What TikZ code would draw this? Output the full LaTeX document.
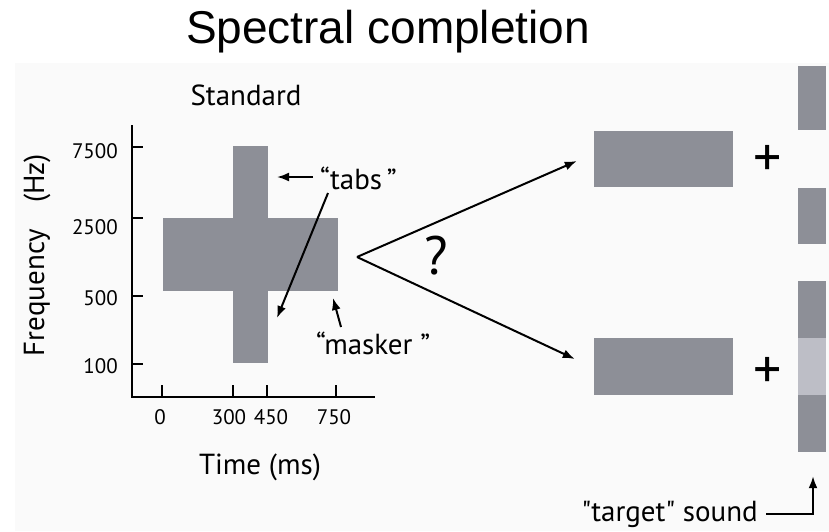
\documentclass[tikz,border=0pt]{standalone}
\usepackage{fontspec}
\setmainfont{PT Sans}[Ligatures=TeXOff]
\newfontfamily\titlefont{Liberation Sans}
\usetikzlibrary{arrows.meta}
\usetikzlibrary{calc}
\usetikzlibrary{positioning}
\definecolor{bargray}{HTML}{8D8F97}
\definecolor{barlight}{HTML}{BDBEC6}
\definecolor{panel}{HTML}{FAFAFA}
\tikzstyle{bar} = [fill=bargray, draw=none, rectangle, inner sep=0pt]
\tikzstyle{lbl} = [font=\fontsize{29}{31}\selectfont, inner sep=0pt]
\tikzstyle{ticklbl} = [font=\fontsize{21}{23}\selectfont, inner sep=0pt]
\tikzstyle{pointer} = [draw, ->, line width=2pt]
\tikzstyle{axis} = [draw, line width=2.4pt]

\begin{document}
\begin{tikzpicture}[x=1pt, y=-1pt, >={Latex[length=12pt,width=9pt]}]
      \useasboundingbox (0,0) rectangle (829,531);
      \fill[panel] (15,63) rectangle (829,531);

      \node [font=\titlefont\fontsize{46}{50}\selectfont, anchor=base] (title) at (388,43) {Spectral completion};
      \node [font=\fontsize{29}{31}\selectfont, anchor=base] (standard) at (246,105) {Standard};

      % spectrogram of the standard
      \node [bar, minimum width=175, minimum height=73] (masker) at (250.5,254.5) {};
      \node [bar, minimum width=35, minimum height=217] (tabs) at (250.5,254.5) {};

      % axes
      \draw [axis] (132,125) -- (132,397) -- (375,397);
      \foreach \y/\f/\ly in {147/7500/151, 218/2500/227, 296/500/298, 364/100/366} {
        \draw [axis] (132,\y) -- (143,\y);
        \node [ticklbl, anchor=east] at (118,\ly) {\f};
      }
      \foreach \x/\t/\lx in {162/0/160, 233/300/229, 267/450/271, 336/750/334} {
        \draw [axis] (\x,397) -- (\x,385);
        \node [ticklbl] at (\lx,417) {\t};
      }
      \node [lbl, rotate=90] (freq) at (37,255) {Frequency\hspace{0.9em}(Hz)};
      \node [lbl, anchor=base] (time) at (260,474) {Time (ms)};

      % labels
      \node [lbl, anchor=west] (tabslbl) at (320,178) {“tabs\,”};
      \node [lbl, anchor=west] (maskerlbl) at (316,343) {“masker ”};
      \coordinate (tabtop) at (277,177);
      \coordinate (tabbot) at (277,318);
      \coordinate (maskedge) at (333,298);
      \draw [pointer] (313,177) -- (tabtop);
      \draw [pointer] (328,193) -- (tabbot);
      \draw [pointer] (341,327) -- (maskedge);

      % two possible percepts
      \node [bar, minimum width=139, minimum height=56] (upper) at (663.5,159) {};
      \node [bar, minimum width=139, minimum height=57] (lower) at (663.5,366.5) {};
      \coordinate (fork) at (357,257);
      \draw [pointer] (fork) -- ($(upper.west)+(-17,2)$);
      \draw [pointer] (fork) -- ($(lower.west)+(-19,-7.5)$);
      \node [font=\fontsize{54}{56}\selectfont] (quest) at (436,256) {?};
      \node [font=\fontsize{56}{58}\selectfont] (plusa) at (768,161) {+};
      \node [font=\fontsize{56}{58}\selectfont] (plusb) at (768,373) {+};

      % remaining parts
      \node [bar, minimum width=28, minimum height=64] (parta) at (812,98) {};
      \node [bar, minimum width=28, minimum height=56] (partb) at (812,216) {};
      \node [bar, minimum width=28, minimum height=57] (partc) at (812,309.5) {};
      \node [bar, fill=barlight, minimum width=28, minimum height=57] (target) at (812,366.5) {};
      \node [bar, minimum width=28, minimum height=57] (partd) at (812,423.5) {};

      \node [lbl, anchor=base east] (targetlbl) at (758,521) {"target" sound};
      \coordinate (tstart) at (766,514);
      \draw [pointer] (tstart) -| ($(partd.south)+(1,24)$);
    \end{tikzpicture}
\end{document}
